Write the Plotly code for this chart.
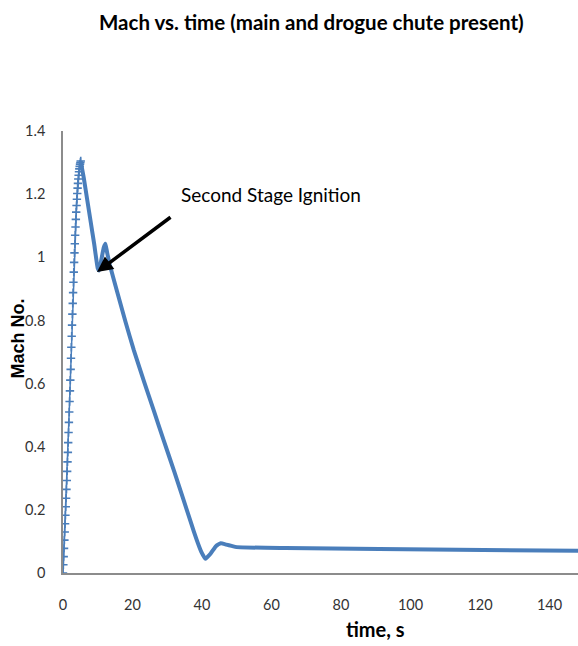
import plotly.graph_objects as go

# Boost phase (dense samples, drawn with cross markers)
boost_t = [0.0, 0.1, 0.2, 0.3, 0.4, 0.5, 0.6, 0.7, 0.8, 0.9, 1.0, 1.1, 1.2, 1.3, 1.4, 1.5, 1.6, 1.7,
           1.8, 1.9, 2.0, 2.1, 2.2, 2.3, 2.4, 2.5, 2.6, 2.7, 2.8, 2.9, 3.0, 3.1, 3.2, 3.3, 3.4, 3.5,
           3.6, 3.7, 3.8, 3.9, 4.0, 4.1, 4.2, 4.3, 4.4, 4.5, 4.6, 4.7, 4.8, 4.9, 5.0, 5.1]
boost_mach = [0, 0.026, 0.052, 0.078, 0.104, 0.13, 0.156, 0.183, 0.21, 0.237, 0.265, 0.293, 0.322,
              0.352, 0.382, 0.413, 0.445, 0.477, 0.51, 0.543, 0.577, 0.611, 0.645, 0.68, 0.715, 0.75,
              0.785, 0.82, 0.854, 0.888, 0.921, 0.953, 0.984, 1.014, 1.043, 1.07, 1.096, 1.12, 1.143,
              1.164, 1.184, 1.202, 1.219, 1.234, 1.248, 1.26, 1.271, 1.28, 1.288, 1.295, 1.3, 1.305]

# Coast / descent phase
coast_t = [5.1, 5.5, 6.0, 7.0, 8.0, 9.0, 10.0, 10.4, 11.0, 11.7, 12.2, 12.7, 13.5, 15.6, 18.0, 20.4,
           23.3, 26.2, 29.0, 32.0, 34.5, 36.8, 38.5, 39.8, 41.0, 42.5, 44.0, 45.4, 47.0, 48.5, 50.0,
           64.0, 91.0, 121.0, 150.0]
coast_mach = [1.305, 1.28, 1.25, 1.18, 1.11, 1.04, 0.965, 0.958, 0.99, 1.03, 1.043, 1.015, 0.975, 0.89,
              0.795, 0.705, 0.607, 0.512, 0.419, 0.322, 0.238, 0.160, 0.104, 0.067, 0.045, 0.062, 0.085,
              0.094, 0.09, 0.086, 0.082, 0.079, 0.076, 0.073, 0.070]

x_ticks = [0, 20, 40, 60, 80, 100, 120, 140]
y_ticks = [0, 0.2, 0.4, 0.6, 0.8, 1.0, 1.2, 1.4]
y_tick_text = ["0", "0.2", "0.4", "0.6", "0.8", "1", "1.2", "1.4"]

BLUE = "#4A7EBB"
FONT = "Lato, sans-serif"

fig = go.Figure()
fig.add_trace(go.Scatter(
    x=boost_t, y=boost_mach, mode="lines+markers",
    line=dict(color=BLUE, width=1.5),
    marker=dict(symbol="cross-thin", size=6, line=dict(color=BLUE, width=1.6)),
    showlegend=False, hoverinfo="skip"))
fig.add_trace(go.Scatter(
    x=coast_t, y=coast_mach, mode="lines",
    line=dict(color=BLUE, width=4, shape="spline", smoothing=0.4),
    showlegend=False, hoverinfo="skip"))

L, T, B = 63, 131, 73
W, H = 578, 646
pw, ph = W - L, H - T - B

def px(x):
    return (x - L) / pw

def py(y):
    return (H - B - y) / ph

fig.update_layout(
    width=W, height=H,
    margin=dict(l=L, r=0, t=T, b=B, pad=0),
    paper_bgcolor="white", plot_bgcolor="white",
    xaxis=dict(range=[0, 148.2], tickvals=x_ticks, showgrid=False, zeroline=False,
               showline=True, linecolor="#8c8c8c", linewidth=1.5,
               ticks="", ticklabelstandoff=18, automargin=False,
               tickfont=dict(family=FONT, size=14.5, color="#333333")),
    yaxis=dict(range=[0, 1.4], tickvals=y_ticks, ticktext=y_tick_text, showgrid=False,
               zeroline=False, showline=True, linecolor="#8c8c8c", linewidth=1.5,
               ticks="", ticklabelstandoff=13, automargin=False,
               tickfont=dict(family=FONT, size=14.5, color="#333333")),
    annotations=[
        dict(text="<b>Mach vs. time (main and drogue chute present)</b>", xref="paper", yref="paper",
             x=px(311), y=py(22), xanchor="center", yanchor="middle", showarrow=False,
             font=dict(family=FONT, size=20.5, color="black")),
        dict(text="<b>Mach No.</b>", xref="paper", yref="paper", x=px(17.5), y=py(339),
             xanchor="center", yanchor="middle", textangle=-90, showarrow=False,
             font=dict(family="Liberation Sans, Arial, sans-serif", size=18, color="black")),
        dict(text="<b>time, s</b>", xref="paper", yref="paper", x=px(375), y=py(629),
             xanchor="center", yanchor="middle", showarrow=False,
             font=dict(family=FONT, size=20, color="black")),
        dict(text="Second Stage Ignition", xref="paper", yref="paper", x=px(179), y=py(194),
             xanchor="left", yanchor="middle", showarrow=False,
             font=dict(family=FONT, size=19, color="black")),
        dict(text="", x=9.78, y=0.953, xref="x", yref="y", showarrow=True,
             ax=75, ay=-56, arrowhead=2, arrowsize=0.9, arrowwidth=3.5,
             arrowcolor="black", standoff=0),
    ],
)

fig.write_html("out.html", config={"displayModeBar": False},
               post_script="document.body.style.margin='0px';document.body.style.overflow='hidden';")
